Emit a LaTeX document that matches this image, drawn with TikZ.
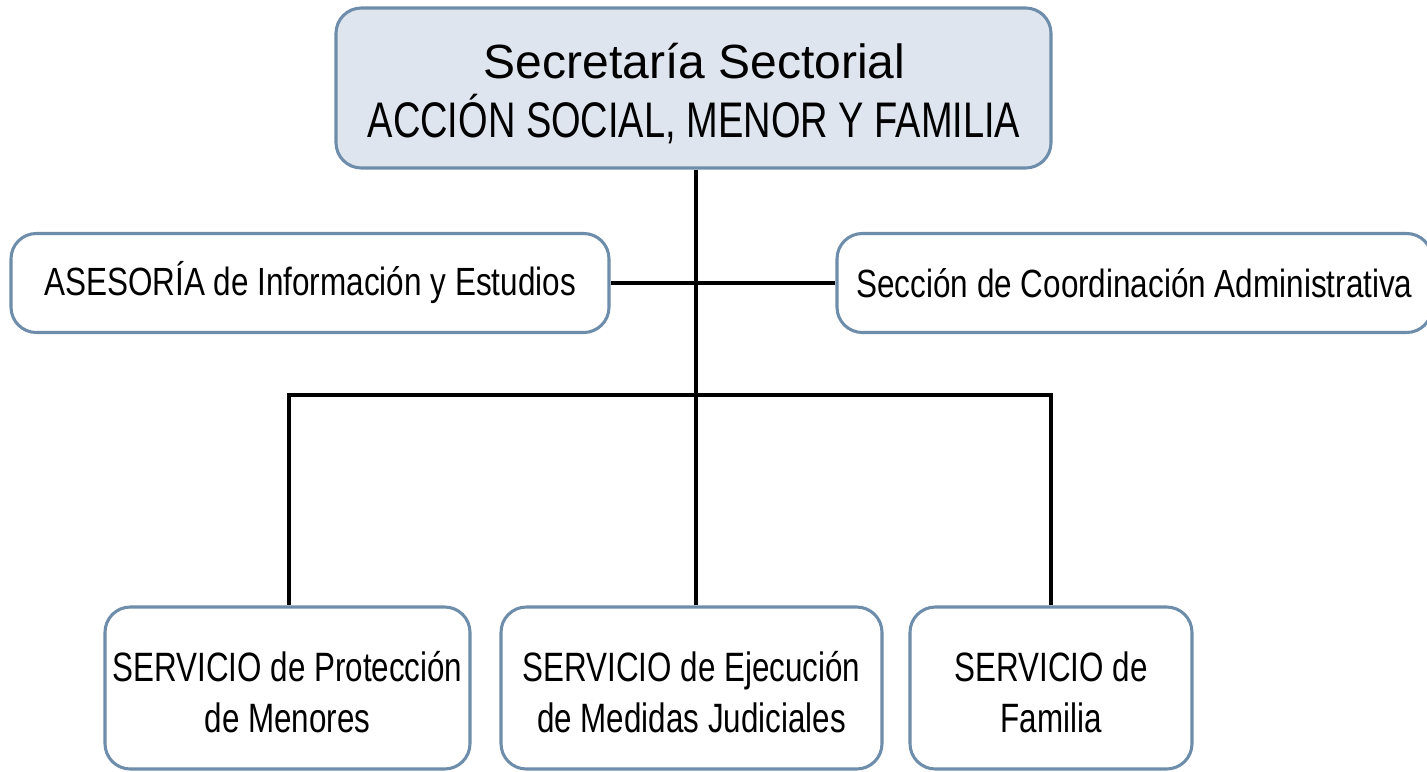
\documentclass[tikz,border=0pt]{standalone}
\usepackage{fontspec}
\setmainfont{Liberation Sans}[FakeStretch=0.8]
\newfontfamily\topfontA{Liberation Sans}
\newfontfamily\topfontB{Liberation Sans}[FakeStretch=0.76]
\newfontfamily\botfontfam{Liberation Sans}[FakeStretch=0.765]
\newcommand{\topstrut}{\rule{0pt}{0.95em}}
\definecolor{bordc}{HTML}{6D8DAB}
\definecolor{topfill}{HTML}{DFE5EE}
\begin{document}
\begin{tikzpicture}[x=0.75pt,y=-0.75pt,
  orgbox/.style={draw=bordc, line width=2.3pt, rounded corners=19pt, fill=white,
    align=center, inner sep=0pt, text=black},
  conn/.style={draw=black, line width=2.4pt},
  midfont/.style={font=\fontsize{29.5}{36}\selectfont},
  botfont/.style={font=\botfontfam\fontsize{30.75}{38.5}\selectfont},
  toptext/.style={anchor=base, inner sep=0pt, text=black}]
\useasboundingbox (0,0) rectangle (1427,771);
\node[orgbox, fill=topfill, minimum width=715*0.75pt, minimum height=160*0.75pt] (top) at (693.5,88) {};
\node[toptext, font=\topfontA\fontsize{36}{42}\selectfont] (t1) at (694.5,78) {Secretaría Sectorial};
\node[toptext, font=\topfontB\fontsize{37.5}{44}\selectfont] (t2) at (694,137) {ACCIÓN SOCIAL, MENOR Y FAMILIA};
\node[orgbox, midfont, minimum width=598*0.75pt, minimum height=99*0.75pt] (ase) at (310,283)
  {ASESORÍA de Información y Estudios};
\node[orgbox, midfont, minimum width=595*0.75pt, minimum height=99*0.75pt] (sec) at (1134.5,283)
  {Sección de Coordinación Administrativa};
\node[orgbox, botfont, minimum width=365*0.75pt, minimum height=162*0.75pt] (s1) at (287.5,688)
  {\topstrut SERVICIO de Protección\\de Menores};
\node[orgbox, botfont, minimum width=381*0.75pt, minimum height=162*0.75pt] (s2) at (691.5,688)
  {\topstrut SERVICIO de Ejecución\\de Medidas Judiciales};
\node[orgbox, botfont, minimum width=282*0.75pt, minimum height=162*0.75pt] (s3) at (1051,688)
  {\topstrut SERVICIO de\\Familia};
\coordinate (trunk) at (696,395);
\coordinate (b1) at (289,395);
\coordinate (b3) at (1051,395);
\draw[conn] (top.south -| trunk) -- (trunk);
\draw[conn] (ase.east) -- (sec.west);
\draw[conn, line cap=rect] (b1) -- (b3);
\draw[conn] (b1) -- (b1 |- s1.north);
\draw[conn] (trunk) -- (trunk |- s2.north);
\draw[conn] (b3) -- (b3 |- s3.north);
\end{tikzpicture}
\end{document}
